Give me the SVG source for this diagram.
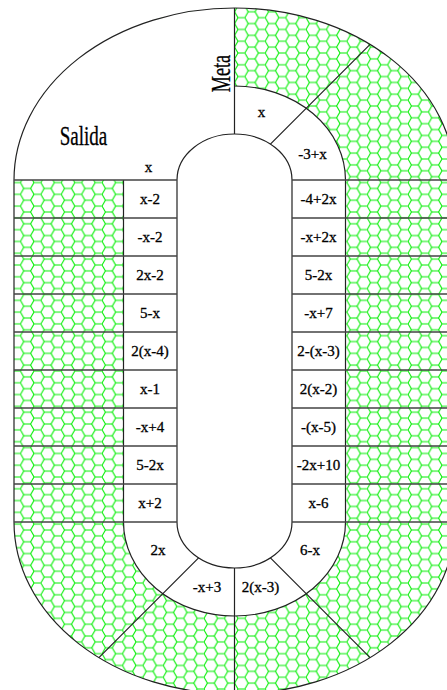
<svg xmlns="http://www.w3.org/2000/svg" width="447" height="690" viewBox="0 0 447 690">
<defs>
<pattern id="hex" patternUnits="userSpaceOnUse" x="0" y="0" width="20.4" height="11.778">
<path d="M0,5.889 L3.4,0 L10.2,0 L13.6,5.889 L10.2,11.778 L3.4,11.778 Z M13.6,5.889 L20.4,5.889" fill="none" stroke="#00ee00" stroke-width="1.1"/>
</pattern>
<style>
.ln{fill:none;stroke:#222;stroke-width:1.2}
.rw{fill:none;stroke:#444;stroke-width:1.4}
.lb{font-family:"Liberation Serif","Times New Roman",serif;font-size:15px;text-anchor:middle;fill:#000;stroke:#000;stroke-width:0.3}
.big{font-family:"Liberation Serif","Times New Roman",serif;font-size:28px;text-anchor:middle;fill:#000;stroke:#000;stroke-width:0.3}
</style>
</defs>
<rect x="0" y="0" width="447" height="690" fill="#fff"/>
<g id="board">
<path d="M14,180 A220.5,172 0 0 1 455,180 L455,522 A220.5,172 0 0 1 14,522 Z" fill="url(#hex)"/>
<path d="M123.5,180 A111,94 0 0 1 345.5,180 L345.5,522 A111,94 0 0 1 123.5,522 Z" fill="#fff"/>
<path d="M234.5,180 L14,180 A220.5,172 0 0 1 234.5,8 Z" fill="#fff"/>
</g>
<g id="connectors">
<path class="ln" d="M14,180 A220.5,172 0 0 1 455,180 L455,522 A220.5,172 0 0 1 14,522 Z"/>
<path class="ln" d="M234.5,86 A111,94 0 0 1 345.5,180 L345.5,522 A111,94 0 0 1 123.5,522 L123.5,180"/>
<path class="ln" d="M177,180 A57.5,46 0 0 1 292,180 L292,522 A57.5,46 0 0 1 177,522 Z"/>
<path class="ln" d="M234.5,8 L234.5,134 M234.5,568 L234.5,694 M270.4,144.1 L370.1,44.4 M198.6,557.9 L98.9,657.6 M270.4,557.9 L370.1,657.6"/>
<path class="rw" d="M14,180 H177 M292,180 H455 M14,218 H177 M292,218 H455 M14,256 H177 M292,256 H455 M14,294 H177 M292,294 H455 M14,332 H177 M292,332 H455 M14,370 H177 M292,370 H455 M14,408 H177 M292,408 H455 M14,446 H177 M292,446 H455 M14,484 H177 M292,484 H455 M14,522 H177 M292,522 H455"/>
</g>
<g id="salida"><text class="big" transform="translate(83.5,145) scale(0.68,1)">Salida</text></g>
<g id="meta"><text class="big" transform="translate(230,73.5) rotate(-90) scale(0.65,1)">Meta</text></g>
<g id="c-start"><text class="lb" x="148.5" y="172">x</text></g>
<g id="c-top1"><text class="lb" x="261.5" y="117">x</text></g>
<g id="c-top2"><text class="lb" x="312.5" y="159">-3+x</text></g>
<g id="l1"><text class="lb" x="150" y="204">x-2</text></g>
<g id="l2"><text class="lb" x="150" y="242">-x-2</text></g>
<g id="l3"><text class="lb" x="150" y="280">2x-2</text></g>
<g id="l4"><text class="lb" x="150" y="318">5-x</text></g>
<g id="l5"><text class="lb" x="150" y="356">2(x-4)</text></g>
<g id="l6"><text class="lb" x="150" y="394">x-1</text></g>
<g id="l7"><text class="lb" x="150" y="432">-x+4</text></g>
<g id="l8"><text class="lb" x="150" y="470">5-2x</text></g>
<g id="l9"><text class="lb" x="150" y="508">x+2</text></g>
<g id="r1"><text class="lb" x="318.5" y="204">-4+2x</text></g>
<g id="r2"><text class="lb" x="318.5" y="242">-x+2x</text></g>
<g id="r3"><text class="lb" x="318.5" y="280">5-2x</text></g>
<g id="r4"><text class="lb" x="318.5" y="318">-x+7</text></g>
<g id="r5"><text class="lb" x="318.5" y="356">2-(x-3)</text></g>
<g id="r6"><text class="lb" x="318.5" y="394">2(x-2)</text></g>
<g id="r7"><text class="lb" x="318.5" y="432">-(x-5)</text></g>
<g id="r8"><text class="lb" x="318.5" y="470">-2x+10</text></g>
<g id="r9"><text class="lb" x="318.5" y="508">x-6</text></g>
<g id="b1"><text class="lb" x="158" y="555">2x</text></g>
<g id="b2"><text class="lb" x="207" y="592">-x+3</text></g>
<g id="b3"><text class="lb" x="260.5" y="592">2(x-3)</text></g>
<g id="b4"><text class="lb" x="310" y="555">6-x</text></g>
</svg>
